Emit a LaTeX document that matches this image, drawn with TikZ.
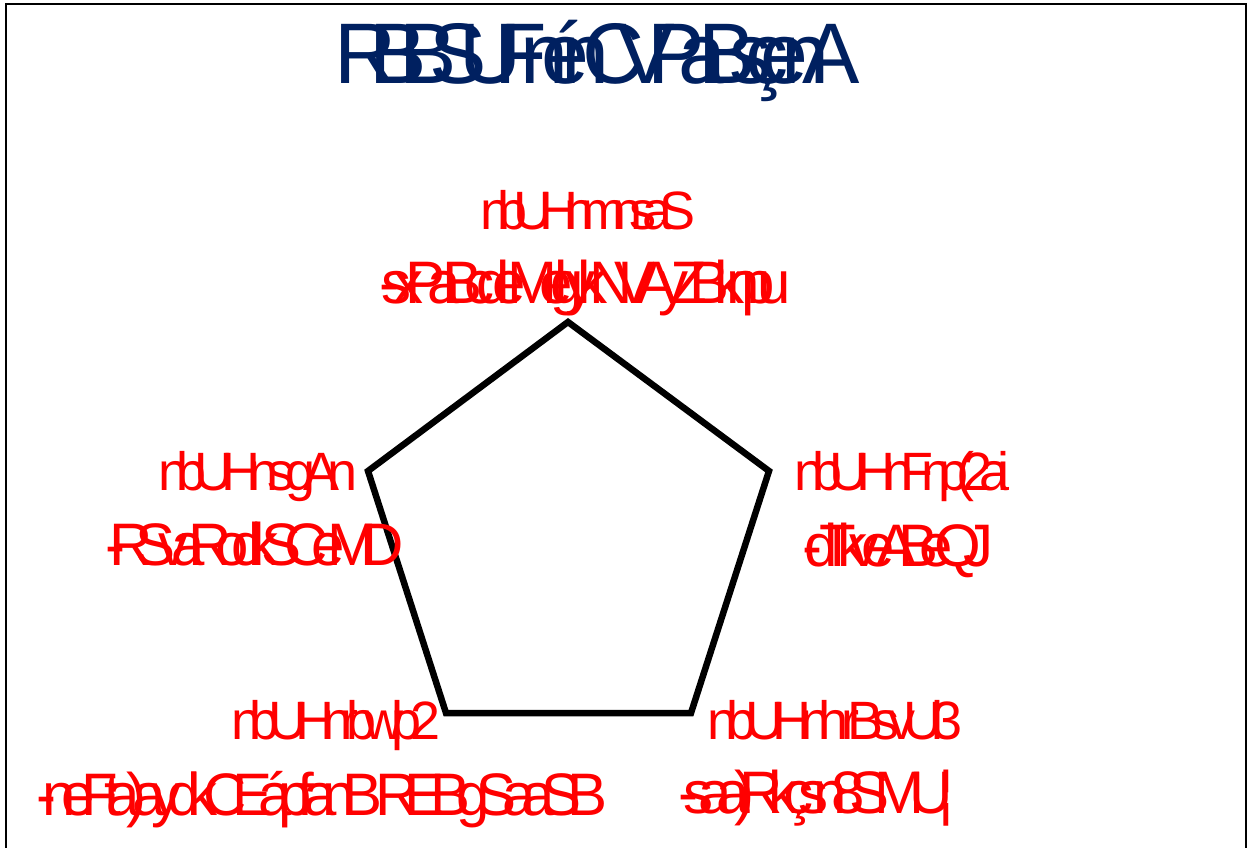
\documentclass[tikz,border=0pt]{standalone}
\usepackage{fontspec}
\setmainfont{Liberation Sans}
\definecolor{navy}{HTML}{002060}
\def\ovend{ovend-marker}
\def\gp{\kern0.35em}
\def\ovx#1{\ifx#1\ovend\else#1\kern\ovk\expandafter\ovx\fi}
\newcommand\ov[2]{\def\ovk{#1}\ovx#2\ovend\kern-\ovk}
\tikzset{
  ttl/.style={text=navy, font=\fontsize{86}{96}\selectfont, inner sep=0pt, anchor=base},
  labA/.style={text=red, font=\fontsize{54}{60}\selectfont, inner sep=0pt, anchor=base},
  labB/.style={text=red, font=\fontsize{60}{70}\selectfont, inner sep=0pt, anchor=base},
  pent/.style={line width=6.5pt, line join=miter, miter limit=10},
  frm/.style={line width=1.5pt}
}
\begin{document}
\begin{tikzpicture}[x=1pt, y=-1pt]
\useasboundingbox (0,0) rectangle (1254,847);
\draw[frm] (6,900) -- (6,4) -- (1246,4) -- (1246,900);
\node[ttl] (title) at (597,83) {\ov{-0.315em}{RBBSUFnénCVPaBsçenA}};
% pentagon
\coordinate (vt) at (568,322);
\coordinate (vr) at (769,471);
\coordinate (vbr) at (691,713);
\coordinate (vbl) at (446,713);
\coordinate (vl) at (368,471);
\draw[pent] (vt) -- (vr) -- (vbr) -- (vbl) -- (vl) -- cycle;
% top label
\node[labA] (t1) at (588,229) {\ov{-0.25em}{nbUHnmnsaS}};
\node[labB] (t2) at (585,303) {\ov{-0.30em}{-sxPaBcdeMelgykNVAyZB\gp knpu}};
% left label
\node[labA] (l1) at (258,490) {\ov{-0.22em}{nbUHns~gAn}};
\node[labB] (l2) at (255,565) {\ov{-0.28em}{-RSvaRodkSCeMD}};
% right label
\node[labA] (r1) at (902,490) {\ov{-0.23em}{nbUHnFnp(2ai}};
\node[labB] (r2) at (898,566) {\ov{-0.305em}{-dTkveABeQJ}};
% bottom left label
\node[labA] (bl1) at (336,739) {\ov{-0.22em}{nbUHnrbwlp2}};
\node[labB] (bl2) at (322,815) {\ov{-0.232em}{-neFta)aydkCEápf~anB\gp REBgSaaSB}};
% bottom right label
\node[labA] (br1) at (835,739) {\ov{-0.21em}{nbUHnh~rBsvUl3}};
\node[labB] (br2) at (816,813) {\ov{-0.25em}{-saa)Rkçsn8SMU¦}};
\end{tikzpicture}
\end{document}
